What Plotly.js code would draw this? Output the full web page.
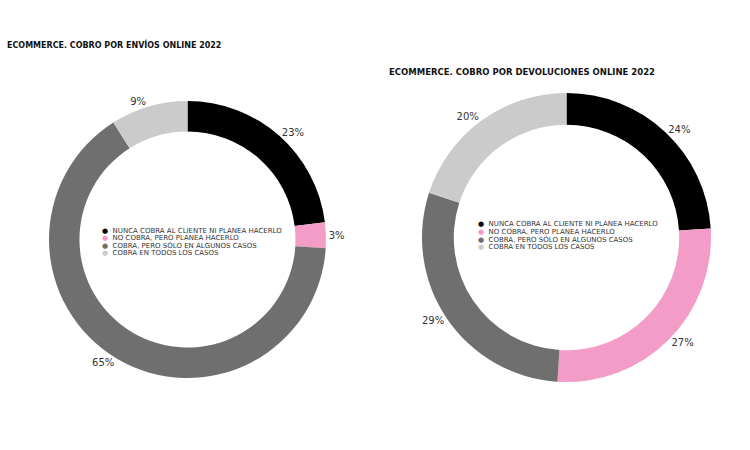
<!DOCTYPE html>
<html>
<head>
<meta charset="utf-8">
<script src="https://cdn.plot.ly/plotly-3.0.1.min.js"></script>
<style>html,body{margin:0;padding:0;background:#fff;}#chart{width:750px;height:450px;}</style>
</head>
<body>
<div id="chart"></div>
<script>
const categories = [
  "NUNCA COBRA AL CLIENTE NI PLANEA HACERLO",
  "NO COBRA, PERO PLANEA HACERLO",
  "COBRA, PERO SÓLO EN ALGUNOS CASOS",
  "COBRA EN TODOS LOS CASOS"
];
const enviosValues = [23, 3, 65, 9];
const devolucionesValues = [24, 27, 29, 20];
const colors = ["#000000", "#f49cc8", "#6f6f6f", "#cbcbcb"];
const titleEnvios = "ECOMMERCE. COBRO POR ENVÍOS ONLINE 2022";
const titleDevoluciones = "ECOMMERCE. COBRO POR DEVOLUCIONES ONLINE 2022";

const FONT = "DejaVu Sans, sans-serif";

function pieTrace(values, domain) {
  return {
    type: "pie",
    labels: categories,
    values: values,
    sort: false,
    direction: "clockwise",
    rotation: 0,
    hole: 0.78,
    domain: domain,
    marker: {colors: colors, line: {width: 0}},
    textposition: "outside",
    texttemplate: "%{value}%",
    outsidetextfont: {family: FONT, size: 10, color: "#333333"},
    hoverinfo: "skip",
    showlegend: false
  };
}

const W = 750, H = 450;
const data = [
  pieTrace(enviosValues, {x: [48 / W, 327 / W], y: [1 - 378 / H, 1 - 101 / H]}),
  pieTrace(devolucionesValues, {x: [420 / W, 713 / W], y: [1 - 382 / H, 1 - 93 / H]})
];

function legendAnnotations(xBullet, yFirst, step) {
  return categories.map((c, i) => ({
    xref: "paper", yref: "paper",
    x: xBullet / W, y: 1 - (yFirst + i * step) / H,
    xanchor: "left", yanchor: "middle",
    showarrow: false,
    text: '<span style="color:' + colors[i] + '">●</span>  ' + c,
    font: {family: FONT, size: 7, color: "#333333"}
  }));
}

const annotations = [
  {xref: "paper", yref: "paper", x: 5 / W, y: 1 - 45 / H, xanchor: "left", yanchor: "middle",
   showarrow: false, text: "<b>" + titleEnvios + "</b>",
   font: {family: FONT, size: 8, color: "#111111"}},
  {xref: "paper", yref: "paper", x: 387 / W, y: 1 - 72 / H, xanchor: "left", yanchor: "middle",
   showarrow: false, text: "<b>" + titleDevoluciones + "</b>",
   font: {family: FONT, size: 8.5, color: "#111111"}}
].concat(legendAnnotations(100, 231, 7.4), legendAnnotations(476, 224, 7.6));

const layout = {
  width: W, height: H,
  margin: {l: 0, r: 0, t: 0, b: 0},
  paper_bgcolor: "#ffffff",
  plot_bgcolor: "#ffffff",
  showlegend: false,
  annotations: annotations,
  font: {family: FONT}
};

Plotly.newPlot("chart", data, layout, {staticPlot: true, displayModeBar: false});
</script>
</body>
</html>
